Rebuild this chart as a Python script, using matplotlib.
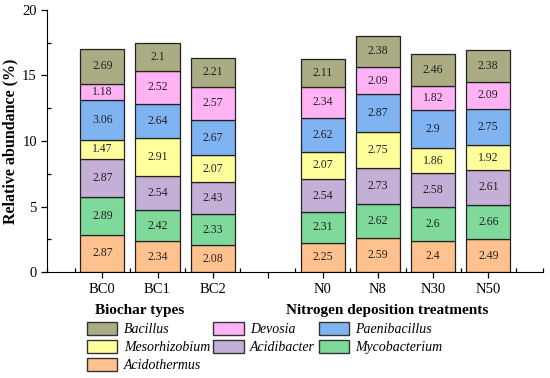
import matplotlib.pyplot as plt
from matplotlib.ticker import MultipleLocator
from matplotlib.patches import Patch

plt.rcParams['font.family'] = ['Liberation Serif', 'DejaVu Serif']

# Tratamientos y posiciones en el eje x (hueco en la posición 4)
tratamientos = ['BC0', 'BC1', 'BC2', 'N0', 'N8', 'N30', 'N50']
posiciones = [1, 2, 3, 5, 6, 7, 8]

# Géneros (de abajo hacia arriba en cada barra)
generos = ['Acidothermus', 'Mycobacterium', 'Acidibacter', 'Mesorhizobium',
           'Paenibacillus', 'Devosia', 'Bacillus']

acidothermus = [2.87, 2.34, 2.08, 2.25, 2.59, 2.4, 2.49]
mycobacterium = [2.89, 2.42, 2.33, 2.31, 2.62, 2.6, 2.66]
acidibacter = [2.87, 2.54, 2.43, 2.54, 2.73, 2.58, 2.61]
mesorhizobium = [1.47, 2.91, 2.07, 2.07, 2.75, 1.86, 1.92]
paenibacillus = [3.06, 2.64, 2.67, 2.62, 2.87, 2.9, 2.75]
devosia = [1.18, 2.52, 2.57, 2.34, 2.09, 1.82, 2.09]
bacillus = [2.69, 2.1, 2.21, 2.11, 2.38, 2.46, 2.38]

valores = [acidothermus, mycobacterium, acidibacter, mesorhizobium,
           paenibacillus, devosia, bacillus]
colores = ['#FFC28E', '#7FD99A', '#C4AFD6', '#FFFF9C',
           '#80B3F2', '#FFB3F5', '#ABAB84']

fig, ax = plt.subplots(figsize=(5.5, 3.78), dpi=100)
fig.subplots_adjust(left=0.086, right=0.988, top=0.974, bottom=0.28)

base = [0.0] * len(tratamientos)
for nombre, vals, color in zip(generos, valores, colores):
    ax.bar(posiciones, vals, width=0.8, bottom=base, color=color,
           edgecolor='#222222', linewidth=0.9, label=nombre)
    for x, b, v in zip(posiciones, base, vals):
        ax.text(x, b + v / 2, f'{v:g}', ha='center', va='center',
                fontsize=8.5, color='#222222')
    base = [b + v for b, v in zip(base, vals)]

ax.set_xlim(0, 9)
ax.set_ylim(0, 20)
ax.set_xticks([1, 2, 3, 4, 5, 6, 7, 8])
ax.set_xticklabels(['BC0', 'BC1', 'BC2', '', 'N0', 'N8', 'N30', 'N50'], fontsize=10.5)
ax.xaxis.set_minor_locator(MultipleLocator(0.5))
ax.yaxis.set_major_locator(MultipleLocator(5))
ax.yaxis.set_minor_locator(MultipleLocator(2.5))
ax.tick_params(axis='both', which='major', direction='out', length=4, width=0.9, labelsize=10.5)
ax.tick_params(axis='both', which='minor', direction='in', length=3, width=0.9)
ax.spines['top'].set_visible(False)
ax.spines['right'].set_visible(False)
ax.set_ylabel('Relative abundance (%)', fontsize=11.5, fontweight='bold', labelpad=3)

ax.text(1.68, -0.145, 'Biochar types', transform=ax.get_xaxis_transform(),
        ha='center', va='center', fontsize=11, fontweight='bold')
ax.text(6.16, -0.145, 'Nitrogen deposition treatments', transform=ax.get_xaxis_transform(),
        ha='center', va='center', fontsize=11, fontweight='bold')

# Leyenda en filas: se reordena para que matplotlib la rellene por columnas
orden = ['Bacillus', 'Mesorhizobium', 'Acidothermus', 'Devosia',
         'Acidibacter', 'Paenibacillus', 'Mycobacterium']
handles = [Patch(facecolor=colores[generos.index(g)], edgecolor='#333333', label=g)
           for g in orden]
fig.legend(handles=handles, ncol=3, loc='upper left', bbox_to_anchor=(0.158, 0.148),
           frameon=False, prop={'style': 'italic', 'size': 10},
           handlelength=2.2, handleheight=1.05, handletextpad=0.45,
           columnspacing=0.25, labelspacing=0.27, borderaxespad=0, borderpad=0)

fig.savefig('out.png', dpi=100)
